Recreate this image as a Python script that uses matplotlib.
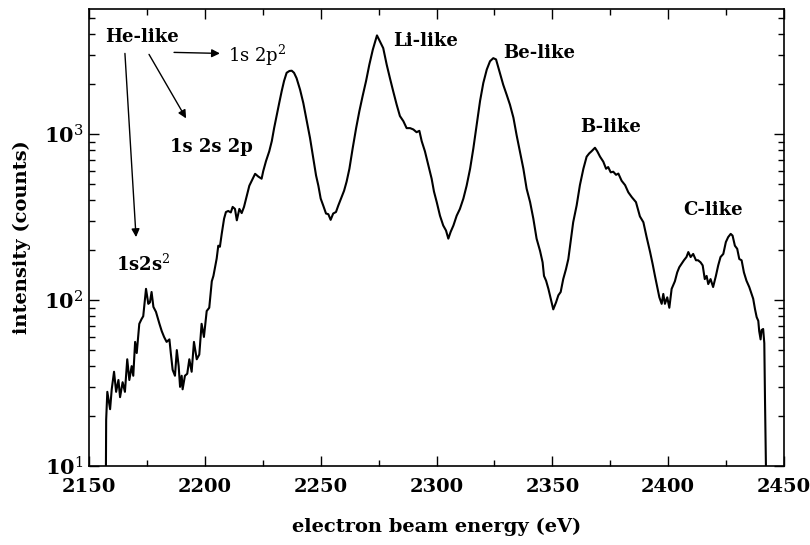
import matplotlib
matplotlib.use("Agg")
import matplotlib.pyplot as plt
from matplotlib.ticker import MultipleLocator, LogLocator, NullFormatter, FixedLocator

plt.rcParams['font.family'] = ['DejaVu Serif']
plt.rcParams['mathtext.fontset'] = 'dejavuserif'

# spectrum (eV, counts)
energy = [2157.3, 2157.4, 2157.9, 2159.1, 2159.8, 2160.8, 2161.7, 2162.7, 2163.4, 2164.5, 2165.5,
          2166.5, 2167.4, 2168.4, 2169.1, 2169.9, 2170.6, 2171.7, 2172.7, 2173.4, 2174.6,
          2175.6, 2176.3, 2177.0, 2177.8, 2178.9, 2180.4, 2181.4, 2182.4, 2183.5, 2184.7,
          2185.3, 2186.1, 2187.1, 2187.9, 2188.7, 2189.3, 2190.0, 2190.4, 2191.4, 2192.4,
          2193.3, 2194.3, 2195.3, 2196.5, 2197.6, 2198.6, 2199.6, 2200.8, 2201.9, 2203.0,
          2203.7, 2205.1, 2205.8, 2206.5, 2207.3, 2208.3, 2209.1, 2210.1, 2211.2, 2212.0,
          2213.0, 2213.8, 2214.9, 2215.9, 2216.9, 2218.1, 2219.2,
          2220.2, 2221.7, 2223.1, 2224.5, 2225.2, 2226.4, 2227.8, 2228.9, 2229.9, 2231.0,
          2232.1, 2233.2, 2234.2, 2235.3, 2236.5, 2237.5, 2238.5, 2239.6, 2241.1, 2242.5,
          2244.0, 2245.4, 2246.8, 2248.0, 2249.0, 2250.0, 2251.1, 2252.3, 2253.3, 2254.3,
          2255.4, 2256.6, 2257.6, 2259.1, 2260.1, 2261.2, 2262.4, 2263.8, 2265.3, 2266.7,
          2268.1, 2269.6, 2271.0, 2272.5, 2274.3,
          2277.0, 2278.5, 2279.9, 2281.3, 2282.8, 2284.2, 2285.7, 2287.1, 2288.6, 2290.0,
          2291.4, 2292.6, 2293.6, 2295.0, 2296.5, 2297.9, 2298.9, 2300.1, 2301.5, 2302.9,
          2304.1, 2305.1, 2306.1, 2307.3, 2308.7, 2310.1, 2311.6, 2313.0, 2314.5, 2315.9,
          2317.3, 2318.8, 2320.2, 2321.7, 2323.1, 2324.5, 2325.7, 2327.1, 2328.8, 2330.3,
          2331.7, 2333.2, 2334.6, 2336.0, 2337.5, 2338.9, 2340.4, 2341.8, 2343.2, 2344.7,
          2345.8, 2346.4, 2347.3, 2348.3, 2349.3, 2350.4, 2351.6, 2352.6, 2353.6, 2354.7,
          2355.9, 2356.9, 2357.9, 2359.0, 2360.5, 2361.9, 2363.4, 2364.8, 2365.9, 2366.9,
          2368.4, 2369.4, 2370.6, 2372.0, 2373.2, 2374.1, 2375.2, 2376.3, 2377.5, 2378.5,
          2379.9, 2381.4, 2382.8, 2384.3, 2386.1, 2387.8, 2389.3, 2390.7, 2392.2, 2393.3,
          2394.3, 2395.3, 2396.2, 2397.2, 2397.9, 2398.6, 2399.6, 2400.5, 2401.5, 2402.9,
          2403.9, 2404.8, 2405.8, 2406.8, 2407.9, 2408.7, 2409.7, 2410.8, 2412.0, 2412.9,
          2414.0, 2414.9, 2415.8, 2416.6, 2417.3, 2418.3, 2419.4, 2420.6, 2421.6, 2422.6,
          2423.8, 2424.9, 2425.9, 2427.0, 2427.8, 2428.8, 2429.8, 2430.7, 2431.7, 2432.7,
          2433.8, 2435.0, 2436.0, 2436.7, 2437.5, 2438.2, 2438.9, 2439.3, 2439.9, 2440.3,
          2441.0, 2441.5, 2441.8, 2442.2]
counts = [10, 19, 28, 22, 29, 37, 28, 33, 26, 32, 28,
          44, 33, 40, 35, 56, 48, 72, 77, 80, 117,
          95, 97, 112, 91, 85, 72, 65, 60, 56, 58,
          48, 38, 35, 50, 40, 30, 35, 29, 35, 36,
          44, 37, 56, 44, 47, 72, 60, 86, 90, 130,
          140, 178, 213, 210, 252, 310, 340, 345, 338, 365,
          355, 303, 355, 335, 365, 427, 490,
          524, 578, 556, 540, 600, 690, 790, 910, 1090, 1300,
          1545, 1830, 2100, 2350, 2410, 2420, 2350, 2180, 1860, 1545,
          1200, 950, 716, 565, 490, 410, 372, 333, 330, 305,
          333, 340, 372, 420, 457, 519, 620, 822, 1090, 1380,
          1700, 2100, 2630, 3240, 3950,
          3310, 2630, 2180, 1820, 1510, 1290, 1200, 1090, 1090, 1070,
          1030, 1050, 910, 790, 650, 540, 452, 390, 323, 282,
          263, 235, 258, 282, 323, 355, 410, 490, 620, 822,
          1135, 1590, 2040, 2460, 2760, 2880, 2830, 2410, 1990, 1730,
          1510, 1260, 985, 790, 620, 470, 390, 310, 235, 198,
          169, 140, 131, 117, 102, 88, 97, 107, 112, 134,
          154, 177, 225, 295, 373, 494, 620, 733, 767, 790,
          830, 790, 733, 684, 620, 635, 590, 595, 570, 580,
          525, 494, 447, 418, 390, 320, 295, 240, 195, 165,
          140, 120, 104, 95, 109, 95, 104, 90, 117, 130,
          147, 158, 166, 174, 182, 195, 182, 190, 174, 174,
          169, 162, 134, 140, 125, 134, 120, 140, 162, 182,
          190, 224, 240, 251, 245, 213, 204, 177, 174, 147,
          131, 120, 109, 102, 88, 79, 75, 65, 58, 66,
          67, 55, 25, 10]

peak_labels = ['Li-like', 'Be-like', 'B-like', 'C-like']
peak_label_pos = [(2281.2, 3680), (2328.7, 3076), (2361.9, 1100), (2406.4, 348)]

fig = plt.figure(figsize=(8.1, 5.45), dpi=100)
ax = fig.add_axes([0.1099, 0.1450, 0.8580, 0.8385])

ax.plot(energy, counts, color='black', lw=1.5)

ax.set_yscale('log')
ax.set_xlim(2150, 2450)
ax.set_ylim(10, 5700)

ax.xaxis.set_major_locator(MultipleLocator(50))
ax.xaxis.set_minor_locator(MultipleLocator(25))
ax.yaxis.set_major_locator(FixedLocator([10, 100, 1000]))
ax.yaxis.set_minor_locator(LogLocator(base=10, subs=range(2, 10)))
ax.yaxis.set_minor_formatter(NullFormatter())
ax.set_yticklabels([r'$\mathbf{10}^{1}$', r'$\mathbf{10}^{2}$', r'$\mathbf{10}^{3}$'], fontsize=15)
for lab in ax.get_xticklabels():
    lab.set_fontweight('bold')
    lab.set_fontsize(14)

ax.tick_params(which='both', direction='in', top=True, right=True, width=1)
ax.tick_params(which='major', length=7)
ax.tick_params(which='minor', length=4)
ax.tick_params(axis='x', pad=9)
ax.tick_params(axis='y', pad=4)
for s in ax.spines.values():
    s.set_linewidth(1.2)

ax.set_xlabel('electron beam energy (eV)', fontsize=14, fontweight='bold', labelpad=15)
ax.set_ylabel('intensity (counts)', fontsize=14, fontweight='bold', labelpad=9)

# He-like group and its arrows
ax.text(2156.9, 3890, 'He-like', fontsize=13, fontweight='bold', ha='left', va='center')
ax.text(2210.0, 2990, r'1s 2p$^2$', fontsize=13, ha='left', va='center')
ax.text(2185.0, 836, '1s 2s 2p', fontsize=13, fontweight='bold', ha='left', va='center')
ax.text(2161.7, 165, r'1s2s$^2$', fontsize=13, fontweight='bold', ha='left', va='center')

arrow = dict(arrowstyle='-|>', color='black', lw=1, mutation_scale=12, shrinkA=0, shrinkB=0)
ax.annotate('', xy=(2206.5, 3076), xytext=(2186.7, 3120), arrowprops=arrow)
ax.annotate('', xy=(2191.9, 1248), xytext=(2175.9, 3035), arrowprops=arrow)
ax.annotate('', xy=(2170.3, 240), xytext=(2165.5, 3076), arrowprops=arrow)

for name, (px, py) in zip(peak_labels, peak_label_pos):
    ax.text(px, py, name, fontsize=13, fontweight='bold', ha='left', va='center')

fig.savefig('out.png', dpi=100)
